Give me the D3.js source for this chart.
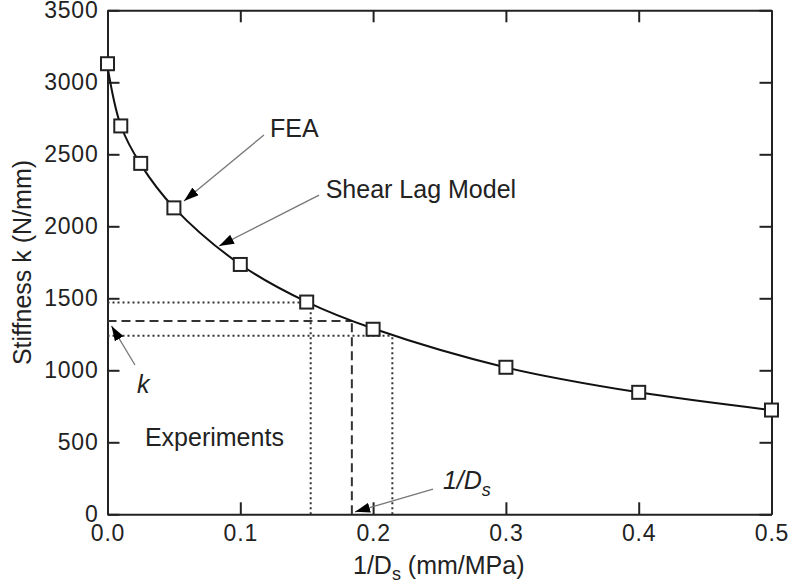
<!DOCTYPE html>
<html>
<head>
<meta charset="utf-8">
<script src="https://cdn.jsdelivr.net/npm/d3@7"></script>
<style>
  body { margin: 0; background: #fff; }
  svg text { font-family: "Liberation Sans", Arial, Helvetica, sans-serif; fill: #222; }
</style>
</head>
<body>
<svg id="chart" width="790" height="588"></svg>
<script>
// FEA points
const feaX = [0, 0.01, 0.025, 0.05, 0.1, 0.15, 0.2, 0.3, 0.4, 0.5]
const feaK = [3129, 2697, 2437, 2128, 1735, 1474, 1285, 1021, 847, 724]

// shear lag model curve
const modelX = [0, 0.01, 0.025, 0.05, 0.1, 0.15, 0.2, 0.3, 0.4, 0.5]
const modelK = [3110, 2700, 2430, 2130, 1735, 1475, 1290, 1020, 847, 724]

// experiments: range and mean
const expK = [1470, 1342, 1240]
const expD = [0.153, 0.184, 0.2145]

const xTicks = [0, 0.1, 0.2, 0.3, 0.4, 0.5]
const yTicks = [0, 500, 1000, 1500, 2000, 2500, 3000, 3500]

const svg = d3.select('#chart')

let x = d3.scaleLinear().domain([0, 0.5]).range([107.5, 771.5])
let y = d3.scaleLinear().domain([0, 3500]).range([514.3, 10.3])

// arrow head
svg.append('defs').append('marker')
  .attr('id', 'head')
  .attr('markerUnits', 'userSpaceOnUse')
  .attr('viewBox', '0 0 15 10')
  .attr('markerWidth', 15)
  .attr('markerHeight', 10)
  .attr('refX', 15)
  .attr('refY', 5)
  .attr('orient', 'auto')
  .append('path')
  .attr('d', 'M0,0 L15,5 L0,10 z')
  .attr('fill', '#000')

// axes
let bottomAxis = svg.append('g')
  .attr('transform', `translate(0,${y(0)})`)
  .call(d3.axisBottom(x).tickValues(xTicks).tickFormat(d3.format('.1f')).tickSizeInner(-12).tickSizeOuter(0).tickPadding(10))
let leftAxis = svg.append('g')
  .attr('transform', `translate(${x(0)},0)`)
  .call(d3.axisLeft(y).tickValues(yTicks).tickFormat(d3.format('d')).tickSizeInner(-12).tickSizeOuter(0).tickPadding(9))
let topAxis = svg.append('g')
  .attr('transform', `translate(0,${y(3500)})`)
  .call(d3.axisTop(x).tickValues(xTicks).tickFormat('').tickSizeInner(-12).tickSizeOuter(0))
let rightAxis = svg.append('g')
  .attr('transform', `translate(${x(0.5)},0)`)
  .call(d3.axisRight(y).tickValues(yTicks).tickFormat('').tickSizeInner(-12).tickSizeOuter(0))

for (let g of [bottomAxis, leftAxis, topAxis, rightAxis]) {
  g.selectAll('path, line').attr('stroke', '#222').attr('stroke-width', 2)
  g.selectAll('text').attr('font-size', 23).attr('fill', '#222')
    .attr('letter-spacing', 0.8)
    .style('font-family', '"Liberation Sans", Arial, sans-serif')
}

// experiment guide lines
const guides = [
  { k: expK[0], d: expD[0], dash: '2,3' },
  { k: expK[1], d: expD[1], dash: '9,5' },
  { k: expK[2], d: expD[2], dash: '2,3' }
]
let gl = svg.append('g')
for (let g of guides) {
  gl.append('line')
    .attr('x1', x(0)).attr('x2', x(g.d))
    .attr('y1', y(g.k)).attr('y2', y(g.k))
    .attr('stroke', '#333').attr('stroke-width', 2).attr('stroke-dasharray', g.dash)
  gl.append('line')
    .attr('x1', x(g.d)).attr('x2', x(g.d))
    .attr('y1', y(0)).attr('y2', y(g.k))
    .attr('stroke', '#333').attr('stroke-width', 2).attr('stroke-dasharray', g.dash)
}

// model curve
let line = d3.line()
  .x(d => x(d[0]))
  .y(d => y(d[1]))
  .curve(d3.curveCatmullRom)
svg.append('path')
  .datum(modelX.map((v, i) => [v, modelK[i]]))
  .attr('d', line)
  .attr('fill', 'none')
  .attr('stroke', '#111')
  .attr('stroke-width', 2)

// FEA squares
svg.append('g').selectAll('rect')
  .data(feaX.map((v, i) => [v, feaK[i]]))
  .enter()
  .append('rect')
  .attr('x', d => x(d[0]) - 6.5)
  .attr('y', d => y(d[1]) - 6.5)
  .attr('width', 13)
  .attr('height', 13)
  .attr('fill', '#fff')
  .attr('stroke', '#222')
  .attr('stroke-width', 2)

// annotations (data units)
const arrows = [
  { from: [0.1178, 2634], to: [0.0576, 2176] },
  { from: [0.1593, 2217], to: [0.0840, 1863] },
  { from: [0.0207, 1037], to: [0.0030, 1308] },
  { from: [0.2451, 175], to: [0.1864, 17] }
]
svg.append('g').selectAll('line')
  .data(arrows)
  .enter()
  .append('line')
  .attr('x1', d => x(d.from[0])).attr('y1', d => y(d.from[1]))
  .attr('x2', d => x(d.to[0])).attr('y2', d => y(d.to[1]))
  .attr('stroke', '#777')
  .attr('stroke-width', 1.3)
  .attr('marker-end', 'url(#head)')

svg.append('text').attr('x', x(0.1224)).attr('y', y(2620)).attr('font-size', 25).text('FEA')
svg.append('text').attr('x', x(0.1643)).attr('y', y(2197)).attr('font-size', 25).text('Shear Lag Model')
svg.append('text').attr('x', x(0.0282)).attr('y', y(476)).attr('font-size', 25).text('Experiments')
svg.append('text').attr('x', x(0.0222)).attr('y', y(842)).attr('font-size', 25).attr('font-style', 'italic').text('k')

let ds = svg.append('text').attr('x', x(0.2526)).attr('y', y(178)).attr('font-size', 25).attr('font-style', 'italic')
ds.append('tspan').text('1/D')
ds.append('tspan').attr('font-size', 18).attr('dy', 7).text('s')

// axis titles
let xt = svg.append('text').attr('x', 353).attr('y', 574).attr('font-size', 25)
xt.append('tspan').text('1/D')
xt.append('tspan').attr('font-size', 18).attr('dy', 6).text('s')
xt.append('tspan').attr('dy', -6).text(' (mm/MPa)')

svg.append('text')
  .attr('transform', 'translate(31,262.5) rotate(-90)')
  .attr('text-anchor', 'middle')
  .attr('font-size', 25)
  .text('Stiffness k (N/mm)')
</script>
</body>
</html>
